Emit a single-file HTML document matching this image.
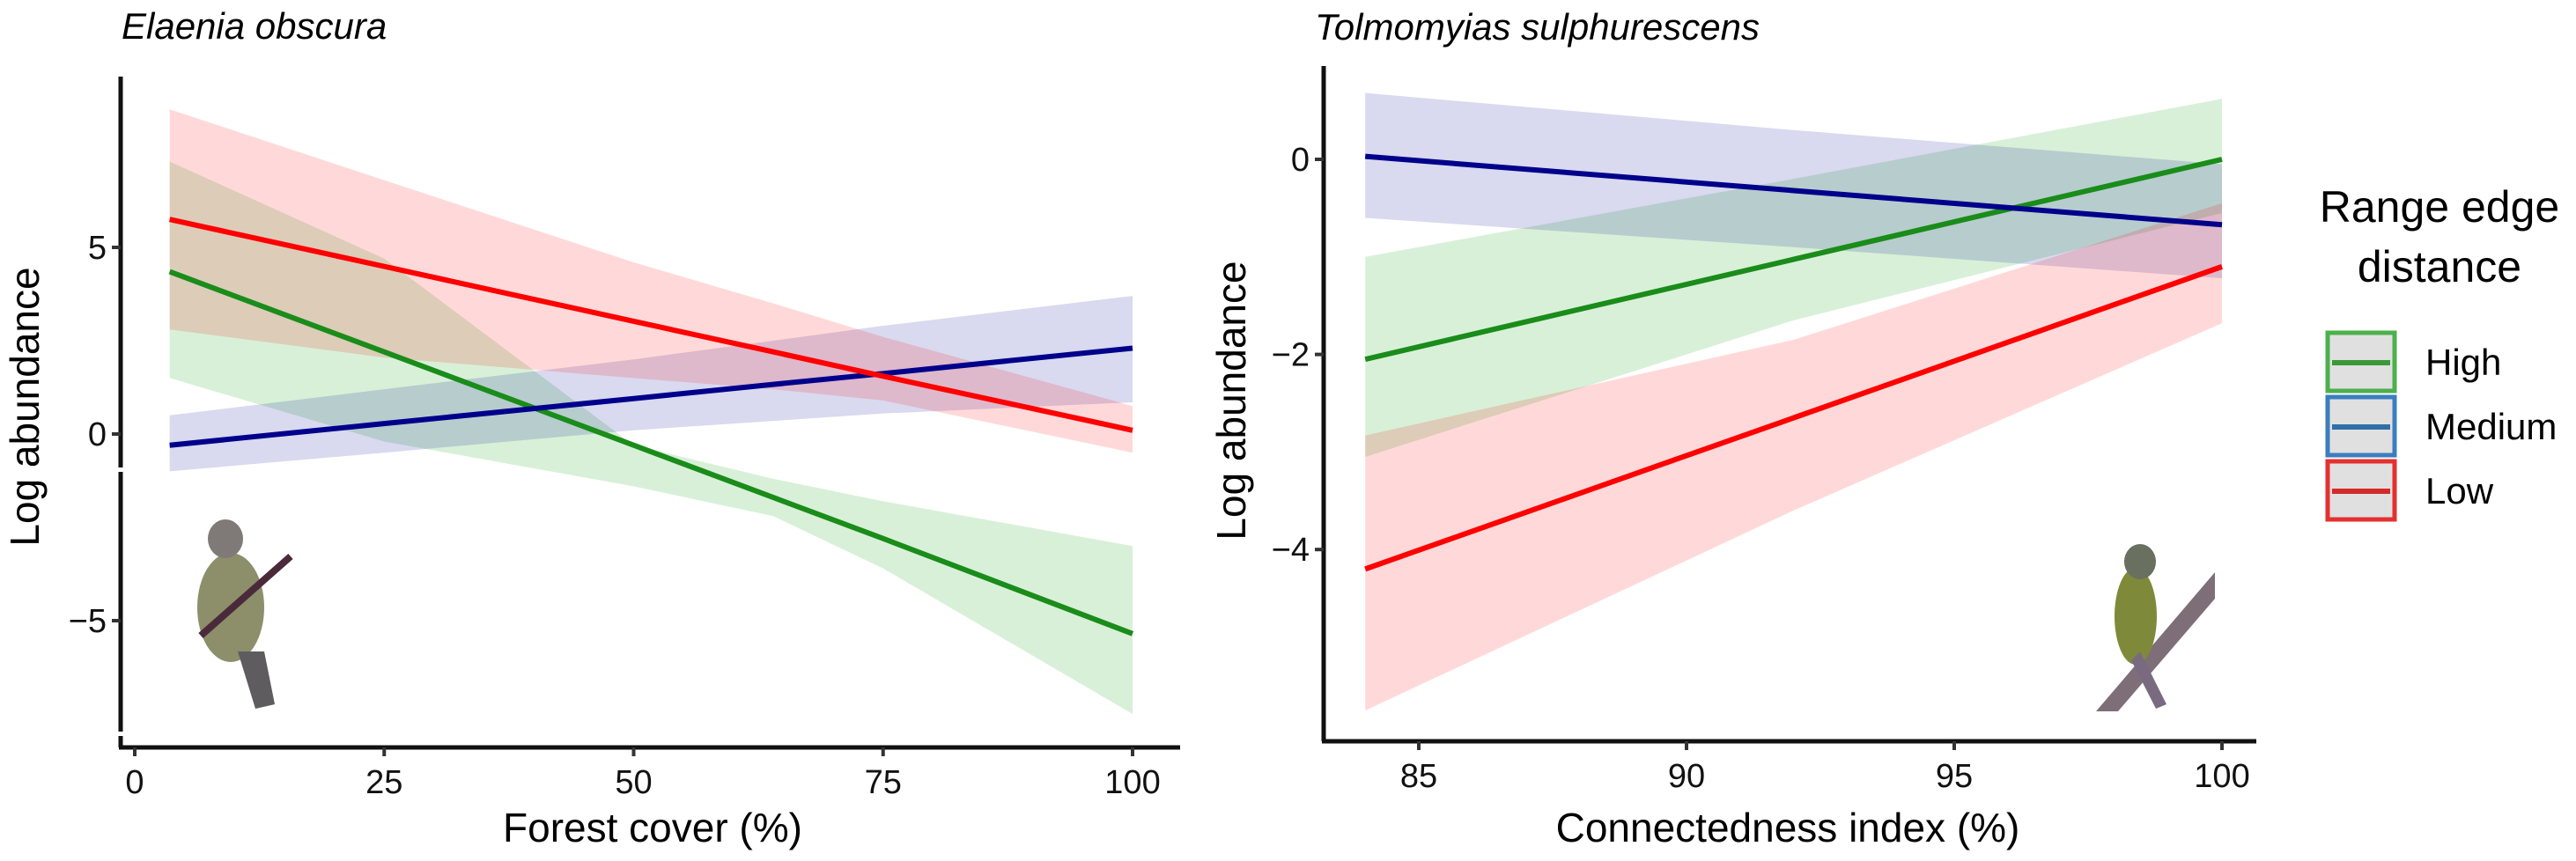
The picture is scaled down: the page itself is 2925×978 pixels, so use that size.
<!DOCTYPE html>
<html><head><meta charset="utf-8"><style>
html,body{margin:0;padding:0;background:#fff;}
svg{display:block;}
text{font-family:"Liberation Sans",sans-serif;}
.tk{font-size:38px;fill:#111;}
.ttl{font-family:"Liberation Sans",sans-serif;font-style:italic;font-size:42px;fill:#000;}
.axt{font-size:46px;fill:#000;}
</style></head><body>
<svg id="chart" width="2925" height="978" viewBox="0 0 2925 978" xmlns="http://www.w3.org/2000/svg">
<g id="left"></g>
<g id="right"></g>
<g id="legend"></g>
</svg>
<script>
// ---- Left panel data (Elaenia obscura) ----
const leftXTicks = [0, 25, 50, 75, 100];
const leftYTicks = [5, 0, -5];
const leftX = [3.5, 25, 50, 64, 75, 100];
const leftHighFit = [4.35, 2.2, -0.3, -1.7, -2.8, -5.35];
const leftHighUp = [7.3, 4.7, -0.3, -1.2, -1.8, -3.0];
const leftHighLo = [1.5, -0.2, -1.4, -2.2, -3.6, -7.5];
const leftMedFit = [-0.3, 0.28, 0.95, 1.33, 1.62, 2.3];
const leftMedUp = [0.5, 1.2, 2.0, 2.5, 2.9, 3.7];
const leftMedLo = [-1.0, -0.5, 0.1, 0.35, 0.55, 0.85];
const leftLowFit = [5.75, 4.49, 3.02, 2.2, 1.55, 0.1];
const leftLowUp = [8.7, 6.8, 4.6, 3.5, 2.6, 0.75];
const leftLowLo = [2.8, 2.05, 1.5, 1.2, 0.9, -0.5];
// ---- Right panel data (Tolmomyias sulphurescens) ----
const rightXTicks = [85, 90, 95, 100];
const rightYTicks = [0, -2, -4];
const rightX = [84, 92, 100];
const rightHighFit = [-2.05, -1.025, 0.0];
const rightHighUp = [-1.0, -0.2, 0.62];
const rightHighLo = [-3.05, -1.65, -0.55];
const rightMedFit = [0.03, -0.32, -0.67];
const rightMedUp = [0.68, 0.3, -0.05];
const rightMedLo = [-0.6, -0.9, -1.22];
const rightLowFit = [-4.2, -2.65, -1.1];
const rightLowUp = [-2.83, -1.85, -0.45];
const rightLowLo = [-5.65, -3.6, -1.68];
const legendLabels = ["High", "Medium", "Low"];

const NS = "http://www.w3.org/2000/svg";
function mk(parent, tag, attrs){ const e=document.createElementNS(NS,tag); for(const k in attrs) e.setAttribute(k, attrs[k]); parent.appendChild(e); return e; }

const COL = {High:"#1a8c1a", Medium:"#00008b", Low:"#ff0000"};
const FILL = {High:"rgba(40,170,40,0.18)", Medium:"rgba(0,0,150,0.15)", Low:"rgba(255,0,0,0.15)"};

function drawPanel(g, cfg){
  const sx = v => cfg.x0 + (v - cfg.xa) * cfg.kx;
  const sy = v => cfg.y0 - v * cfg.ky;
  const series = [
    ["High", cfg.hi], ["Medium", cfg.me], ["Low", cfg.lo]
  ];
  series.forEach(([nm, s]) => {
    let d = "";
    cfg.xs.forEach((x,i)=>{ d += (i?"L":"M") + sx(x) + "," + sy(s.up[i]); });
    for(let i=cfg.xs.length-1;i>=0;i--) d += "L" + sx(cfg.xs[i]) + "," + sy(s.lo[i]);
    const p = mk(g,"path",{d:d+"Z",fill:FILL[nm]});
    
    
  });
  series.forEach(([nm, s]) => {
    let d = "";
    cfg.xs.forEach((x,i)=>{ d += (i?"L":"M") + sx(x) + "," + sy(s.fit[i]); });
    const p = mk(g,"path",{d:d,fill:"none",stroke:COL[nm],"stroke-width":6});
    
    
  });
  const ya = mk(g,"line",{x1:cfg.ax,y1:cfg.top,x2:cfg.ax,y2:cfg.bot,stroke:"#111","stroke-width":5});
  
  
  const xa = mk(g,"line",{x1:cfg.ax-2,y1:cfg.bot,x2:cfg.right,y2:cfg.bot,stroke:"#111","stroke-width":5});
  
  
  (cfg.breaks||[]).forEach(b=>{ mk(g,"rect",{x:cfg.ax-4,y:b,width:8,height:5,fill:"#fff"}); });
  cfg.xt.forEach(t=>{
    mk(g,"line",{x1:sx(t),y1:cfg.bot,x2:sx(t),y2:cfg.bot+10,stroke:"#333","stroke-width":4});
    const tx = mk(g,"text",{x:sx(t),y:cfg.bot+52,"text-anchor":"middle",class:"tk"}); tx.textContent=t;
    
    
  });
  cfg.yt.forEach(t=>{
    mk(g,"line",{x1:cfg.ax-10,y1:sy(t),x2:cfg.ax,y2:sy(t),stroke:"#333","stroke-width":4});
    const tx = mk(g,"text",{x:cfg.ax-16,y:sy(t)+13,"text-anchor":"end",class:"tk"}); tx.textContent = t<0 ? "\u2212"+Math.abs(t) : t;
    
    
  });
}

drawPanel(document.getElementById("left"), {
  x0:153, xa:0, kx:11.33, y0:493, ky:42.4, ax:137, top:87, bot:849, right:1340, breaks:[531,831],
  xs:leftX, xt:leftXTicks, yt:leftYTicks,
  hi:{fit:leftHighFit,up:leftHighUp,lo:leftHighLo},
  me:{fit:leftMedFit,up:leftMedUp,lo:leftMedLo},
  lo:{fit:leftLowFit,up:leftLowUp,lo:leftLowLo}
});
drawPanel(document.getElementById("right"), {
  x0:1611, xa:85, kx:60.8, y0:181, ky:110.8, ax:1503, top:75, bot:842, right:2562,
  xs:rightX, xt:rightXTicks, yt:rightYTicks,
  hi:{fit:rightHighFit,up:rightHighUp,lo:rightHighLo},
  me:{fit:rightMedFit,up:rightMedUp,lo:rightMedLo},
  lo:{fit:rightLowFit,up:rightLowUp,lo:rightLowLo}
});

const lg = document.getElementById("legend");
const lgBorder = {High:"#4cb04c", Medium:"#3a7ebf", Low:"#e53030"};
const lgLine = {High:"#3a9a3a", Medium:"#2f6ea8", Low:"#d42a2a"};
legendLabels.forEach((nm,i)=>{
  const y = 378 + i*73;
  const r = mk(lg,"rect",{x:2643,y:y,width:76,height:66,fill:"#e0e0e0",stroke:lgBorder[nm],"stroke-width":5});
  
  
  mk(lg,"line",{x1:2648,y1:y+34,x2:2714,y2:y+34,stroke:lgLine[nm],"stroke-width":6});
  const t = mk(lg,"text",{x:2754,y:y+48,style:"font-size:42px"}); t.textContent = nm;
  
  
});
</script>
<svg style="position:absolute;left:0;top:0" width="2925" height="978">
  <text x="138" y="44" class="ttl">Elaenia obscura</text>
  <text x="1493" y="45" class="ttl">Tolmomyias sulphurescens</text>
  <text transform="translate(44,462) rotate(-90)" text-anchor="middle" class="axt">Log abundance</text>
  <text transform="translate(1414,455) rotate(-90)" text-anchor="middle" class="axt">Log abundance</text>
  <text x="741" y="956" text-anchor="middle" class="axt">Forest cover (%)</text>
  <text x="2030" y="956" text-anchor="middle" class="axt">Connectedness index (%)</text>
  <text x="2770" y="252" text-anchor="middle" style="font-size:50px">Range edge</text>
  <text x="2770" y="320" text-anchor="middle" style="font-size:50px">distance</text>
  <g>
    <ellipse cx="262" cy="690" rx="38" ry="62" fill="#8c8f6a"/>
    <ellipse cx="256" cy="612" rx="20" ry="22" fill="#7f7a78"/>
    <path d="M270 740 L300 740 L312 800 L290 805 Z" fill="#5e5c5e"/>
    <line x1="228" y1="722" x2="330" y2="632" stroke="#4a2a3a" stroke-width="8"/>
  </g>
  <g>
    <path d="M2380 808 L2515 650 L2515 680 L2405 808 Z" fill="#7e6e78"/>
    <ellipse cx="2425" cy="700" rx="24" ry="55" fill="#7e8a3a"/>
    <ellipse cx="2430" cy="638" rx="18" ry="20" fill="#6a7060"/>
    <path d="M2430 740 L2460 800 L2448 805 L2420 750 Z" fill="#7a6a80"/>
  </g>
</svg>
</body></html>
